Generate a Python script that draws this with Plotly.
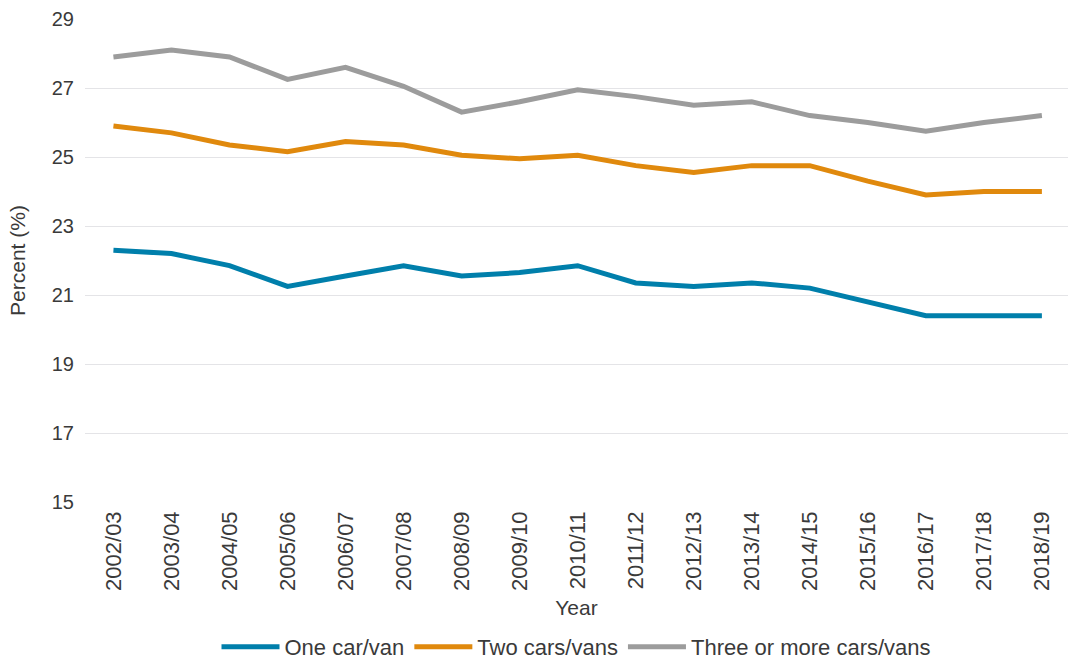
import plotly.graph_objects as go

years = ["2002/03", "2003/04", "2004/05", "2005/06", "2006/07", "2007/08", "2008/09",
         "2009/10", "2010/11", "2011/12", "2012/13", "2013/14", "2014/15", "2015/16",
         "2016/17", "2017/18", "2018/19"]
one_car = [22.3, 22.2, 21.85, 21.25, 21.55, 21.85, 21.55, 21.65, 21.85, 21.35, 21.25,
           21.35, 21.2, 20.8, 20.4, 20.4, 20.4]
two_cars = [25.9, 25.7, 25.35, 25.15, 25.45, 25.35, 25.05, 24.95, 25.05, 24.75, 24.55,
            24.75, 24.75, 24.3, 23.9, 24.0, 24.0]
three_cars = [27.9, 28.1, 27.9, 27.25, 27.6, 27.05, 26.3, 26.6, 26.95, 26.75, 26.5,
              26.6, 26.2, 26.0, 25.75, 26.0, 26.2]
y_ticks = [15, 17, 19, 21, 23, 25, 27, 29]

series = [("One car/van", one_car, "#007FAB"),
          ("Two cars/vans", two_cars, "#E0890D"),
          ("Three or more cars/vans", three_cars, "#9C9C9C")]

fig = go.Figure()
for name, vals, col in series:
    fig.add_trace(go.Scatter(x=years, y=vals, name=name, mode="lines",
                             line=dict(color=col, width=5)))

font = "Liberation Sans, Arial, sans-serif"
txt = "#3A3A3A"
fig.update_layout(
    width=1068, height=659,
    margin=dict(l=85, r=0, t=19, b=157, autoexpand=False),
    paper_bgcolor="white", plot_bgcolor="white",
    font=dict(family=font, size=20, color=txt),
    showlegend=True,
    legend=dict(orientation="h", x=0.5, xanchor="center", y=-0.30, yanchor="middle",
                font=dict(size=22, color=txt), itemwidth=58, tracegroupgap=0),
)
fig.update_xaxes(type="category", tickangle=-90, tickfont=dict(size=22, color=txt),
                 showgrid=False, showline=False, ticks="", range=[-0.49, 16.45],
                 automargin=False, ticklabelstandoff=4,
                 title=dict(text="Year", font=dict(size=21, color=txt), standoff=10))
fig.update_yaxes(range=[15, 29], tickvals=y_ticks, showgrid=True, gridcolor="#E4E4E7",
                 gridwidth=1.2, zeroline=False, showline=False, ticks="",
                 tickfont=dict(size=20, color=txt), automargin=False, ticklabelstandoff=10,
                 title=dict(text="Percent (%)", font=dict(size=21, color=txt), standoff=20))
fig.write_html("out.html")
